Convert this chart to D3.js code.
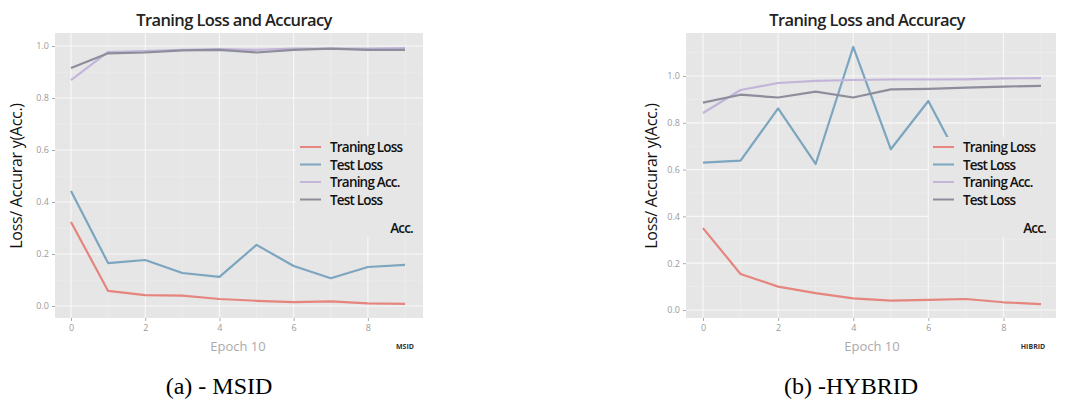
<!DOCTYPE html>
<html><head><meta charset="utf-8">
<script src="https://cdn.jsdelivr.net/npm/d3@7"></script>
<style>body{margin:0;background:#fff}svg{display:block}</style>
</head><body>
<svg id="c" width="1072" height="403"></svg>
<script>
const epochs = [0,1,2,3,4,5,6,7,8,9];
const xTicks = [0,2,4,6,8];
const yTicks = [0,0.2,0.4,0.6,0.8,1.0];
const yTickLabels = ["0.0","0.2","0.4","0.6","0.8","1.0"];
const seriesNames = ["Traning Loss","Test Loss","Traning Acc.","Test Loss"];

// MSID
const msidTrainLoss = [0.323,0.058,0.042,0.040,0.027,0.020,0.015,0.018,0.010,0.008];
const msidTestLoss  = [0.442,0.165,0.177,0.127,0.112,0.235,0.154,0.107,0.150,0.158];
const msidTrainAcc  = [0.869,0.977,0.980,0.985,0.988,0.985,0.990,0.990,0.990,0.992];
const msidTestAcc   = [0.915,0.972,0.975,0.983,0.985,0.975,0.985,0.990,0.985,0.985];

// HYBRID
const hybTrainLoss = [0.350,0.154,0.100,0.072,0.050,0.040,0.043,0.047,0.033,0.025];
const hybTestLoss  = [0.630,0.638,0.862,0.624,1.124,0.687,0.893,0.590,0.620,0.600];
const hybTrainAcc  = [0.842,0.940,0.970,0.979,0.983,0.985,0.985,0.986,0.990,0.991];
const hybTestAcc   = [0.886,0.920,0.908,0.933,0.908,0.943,0.945,0.950,0.955,0.958];

const colors = ["#e5857e","#7ca5bf","#c3b5d9","#8d8d9b"];
const svg = d3.select("#c");

function panel(cfg){
  const g = svg.append("g");
  const x = d3.scaleLinear().domain([0,9]).range([cfg.x0,cfg.x9]);
  const y = d3.scaleLinear().domain([0,1]).range([cfg.y0,cfg.y1]);
  g.append("rect").attr("x",cfg.left).attr("y",cfg.top).attr("width",cfg.right-cfg.left).attr("height",cfg.bottom-cfg.top).attr("fill","#e6e6e6");
  const minorY = d3.range(0.1,1.2,0.2).filter(v=>y(v)>cfg.top);
  g.selectAll(null).data(minorY).enter().append("line")
    .attr("x1",cfg.left).attr("x2",cfg.right).attr("y1",d=>y(d)).attr("y2",d=>y(d))
    .attr("stroke","#f0f0f0").attr("stroke-width",0.6);
  g.selectAll(null).data([1,3,5,7,9]).enter().append("line")
    .attr("y1",cfg.top).attr("y2",cfg.bottom).attr("x1",d=>x(d)).attr("x2",d=>x(d))
    .attr("stroke","#f0f0f0").attr("stroke-width",0.6);
  g.selectAll(null).data(yTicks).enter().append("line")
    .attr("x1",cfg.left).attr("x2",cfg.right).attr("y1",d=>y(d)).attr("y2",d=>y(d))
    .attr("stroke","#f7f7f7").attr("stroke-width",1.2);
  g.selectAll(null).data(xTicks).enter().append("line")
    .attr("y1",cfg.top).attr("y2",cfg.bottom).attr("x1",d=>x(d)).attr("x2",d=>x(d))
    .attr("stroke","#f7f7f7").attr("stroke-width",1.2);
  const line = d3.line().x((d,i)=>x(epochs[i])).y(d=>y(d));
  cfg.series.forEach((s,i)=>{
    g.append("path").datum(s).attr("d",line).attr("fill","none")
      .attr("stroke",colors[i]).attr("stroke-width",2.2).attr("stroke-linejoin","round");
  });
  const ya = d3.axisLeft(y).tickValues(yTicks).tickFormat((d,i)=>yTickLabels[i]).tickSize(3).tickPadding(3);
  const yg = g.append("g").attr("transform",`translate(${cfg.left},0)`).call(ya);
  yg.select(".domain").remove();
  yg.selectAll("line").attr("stroke","#aaa");
  yg.selectAll("text").attr("fill","#9a9a9a").style("font-family","Open Sans").style("font-size","9px");
  const xa = d3.axisBottom(x).tickValues(xTicks).tickFormat(d3.format("d")).tickSize(3).tickPadding(4);
  const xg = g.append("g").attr("transform",`translate(0,${cfg.bottom})`).call(xa);
  xg.select(".domain").remove();
  xg.selectAll("line").attr("stroke","#aaa");
  xg.selectAll("text").attr("fill","#9a9a9a").style("font-family","Open Sans").style("font-size","9px");
  // legend
  g.append("rect").attr("x",cfg.legX-4).attr("y",cfg.legY-10).attr("width",cfg.right-cfg.legX+4).attr("height",100).attr("fill","#e6e6e6");
  seriesNames.forEach((n,i)=>{
    const yy = cfg.legY + i*17.5;
    g.append("line").attr("x1",cfg.legX).attr("x2",cfg.legX+21).attr("y1",yy).attr("y2",yy)
      .attr("stroke",colors[i]).attr("stroke-width",2);
    g.append("text").attr("x",cfg.legX+30).attr("y",yy+5).text(n)
      .attr("fill","#111").style("font-family","Open Sans").style("font-size","13.5px").style("font-weight","600").style("letter-spacing","-0.8px");
  });
  g.append("text").attr("x",cfg.legX+113).attr("y",cfg.legY+86).attr("text-anchor","end").text("Acc.")
    .attr("fill","#111").style("font-family","Open Sans").style("font-size","13.5px").style("font-weight","600").style("letter-spacing","-0.8px");
  g.append("text").attr("x",cfg.titleX).attr("y",26).attr("text-anchor","middle").text("Traning Loss and Accuracy")
    .attr("fill","#222").style("font-family","Open Sans").style("font-size","16.5px").style("font-weight","600").style("letter-spacing","-0.6px");
  g.append("text").attr("transform",`translate(${cfg.ylabX},176) rotate(-90)`).attr("text-anchor","middle")
    .text("Loss/ Accurar y(Acc.)").attr("fill","#111").style("font-family","Open Sans").style("font-size","16px").style("letter-spacing","-0.3px");
  g.append("text").attr("x",(cfg.x0+cfg.x9)/2).attr("y",351).attr("text-anchor","middle").text("Epoch 10")
    .attr("fill","#aaa").style("font-family","Open Sans").style("font-size","13px");
  g.append("text").attr("x",cfg.tagX).attr("y",349).attr("text-anchor","middle").text(cfg.tag)
    .attr("fill","#333").style("font-family","Open Sans").style("font-size","7px").style("font-weight","bold");
  g.append("text").attr("x",cfg.capX).attr("y",394).attr("text-anchor","middle").text(cfg.caption)
    .attr("fill","#000").style("font-family","Liberation Serif").style("font-size","24px");
}

panel({left:55,right:423,top:33,bottom:318,x0:71,x9:405,y0:306,y1:46,
  series:[msidTrainLoss,msidTestLoss,msidTrainAcc,msidTestAcc],
  legX:300,legY:147,titleX:234,ylabX:22,tag:"MSID",tagX:405,capX:219,caption:"(a) - MSID"});
panel({left:686,right:1056,top:33,bottom:318,x0:703,x9:1041,y0:310,y1:76,
  series:[hybTrainLoss,hybTestLoss,hybTrainAcc,hybTestAcc],
  legX:933,legY:147,titleX:867,ylabX:657,tag:"HIBRID",tagX:1033,capX:851,caption:"(b) -HYBRID"});
</script>
</body></html>
